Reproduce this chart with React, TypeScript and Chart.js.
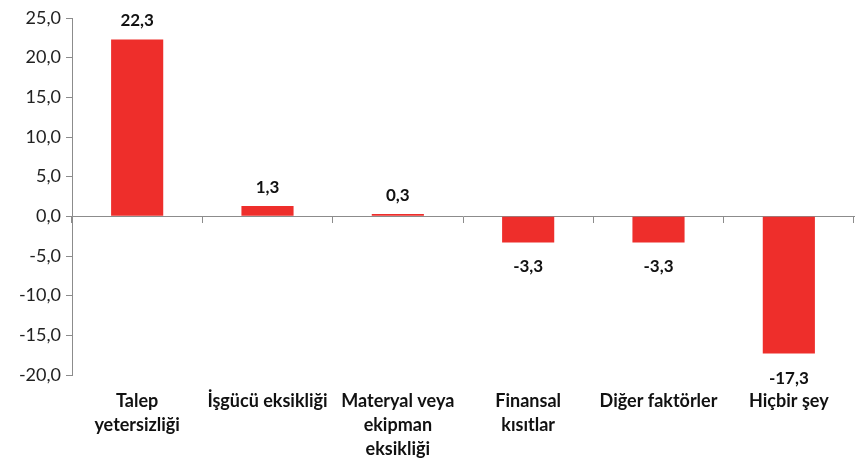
import React, { useEffect, useRef } from "react";
import { Chart, registerables } from "chart.js";

Chart.register(...registerables);

const categories: (string | string[])[] = [
  ["Talep", "yetersizliği"],
  "İşgücü eksikliği",
  ["Materyal veya", "ekipman", "eksikliği"],
  ["Finansal", "kısıtlar"],
  "Diğer faktörler",
  "Hiçbir şey",
];
const values = [22.3, 1.3, 0.3, -3.3, -3.3, -17.3];
const yMin = -20;
const yMax = 25;
const yStep = 5;

const fmt = (v: number) => v.toFixed(1).replace(".", ",");

const dataLabelPlugin = {
  id: "dataLabels",
  afterDatasetsDraw(chart: any) {
    const ctx = chart.ctx;
    const meta = chart.getDatasetMeta(0);
    ctx.save();
    ctx.font = "bold 17px Lato";
    ctx.fillStyle = "#111111";
    ctx.textAlign = "center";
    meta.data.forEach((bar: any, i: number) => {
      const v = values[i];
      const txt = fmt(v);
      if (v >= 0) {
        ctx.textBaseline = "bottom";
        ctx.fillText(txt, bar.x, bar.y - 10);
      } else {
        ctx.textBaseline = "top";
        ctx.fillText(txt, bar.x, bar.y + 16);
      }
    });
    ctx.restore();
  },
};

export default function App() {
  const ref = useRef<HTMLCanvasElement>(null);
  useEffect(() => {
    document.body.style.margin = "0";
    const chart = new Chart(ref.current!, {
      type: "bar",
      data: {
        labels: categories,
        datasets: [
          {
            data: values,
            backgroundColor: "#EE2E2B",
            categoryPercentage: 1,
            barPercentage: 0.4,
          },
        ],
      },
      options: {
        animation: false,
        responsive: false,
        layout: { padding: { top: 18, right: 10, left: 0, bottom: 0 } },
        plugins: { legend: { display: false }, tooltip: { enabled: false } },
        scales: {
          x: {
            position: "bottom",
            grid: { display: false },
            border: { display: false },
            ticks: {
              color: "#111111",
              font: { family: "Lato", size: 18, weight: "bold", lineHeight: 1.33 },
              maxRotation: 0,
              autoSkip: false,
              padding: 6,
            },
            afterFit: (s: any) => {
              s.height = 85;
            },
          },
          x2: {
            type: "category",
            labels: categories.map(() => ""),
            position: { y: 0 },
            offset: true,
            grid: {
              offset: true,
              drawOnChartArea: false,
              drawTicks: true,
              tickLength: 6,
              color: "#8c8c8c",
            },
            border: { display: true, color: "#8c8c8c" },
            ticks: { display: false },
          },
          y: {
            min: yMin,
            max: yMax,
            ticks: {
              stepSize: yStep,
              color: "#222222",
              font: { family: "Lato", size: 18 },
              padding: 5,
              callback: (v: any) => fmt(Number(v)),
            },
            grid: { drawOnChartArea: false, tickLength: 6, color: "#8c8c8c" },
            border: { display: true, color: "#8c8c8c" },
            afterFit: (s: any) => {
              s.width = 72;
            },
          },
        },
      } as any,
      plugins: [dataLabelPlugin],
    });
    return () => chart.destroy();
  }, []);
  return (
    <div style={{ width: 864, height: 460, background: "#fff" }}>
      <canvas ref={ref} width={864} height={460} />
    </div>
  );
}
